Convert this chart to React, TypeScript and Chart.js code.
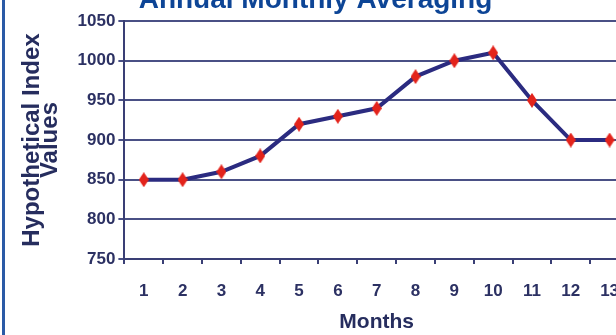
import React, { useEffect, useRef } from "react";
import { Chart, registerables } from "chart.js";

Chart.register(...registerables);

const months: string[] = ["1", "2", "3", "4", "5", "6", "7", "8", "9", "10", "11", "12", "13"];
const indexValues: number[] = [850, 850, 860, 880, 920, 930, 940, 980, 1000, 1010, 950, 900, 900];
const yMin = 750;
const yMax = 1050;
const yStep = 50;
const chartTitle = "Annual Monthly Averaging";
const yTitle: string[] = ["Hypothetical Index", "Values"];
const xTitle = "Months";

const OFF = 24;
const W = 640;
const H = 335 + OFF;

function makeDiamond(): HTMLCanvasElement {
  const c = document.createElement("canvas");
  c.width = 10;
  c.height = 15;
  const ctx = c.getContext("2d")!;
  ctx.fillStyle = "#e3231b";
  ctx.beginPath();
  ctx.moveTo(5, 0);
  ctx.lineTo(10, 7.5);
  ctx.lineTo(5, 15);
  ctx.lineTo(0, 7.5);
  ctx.closePath();
  ctx.fill();
  return c;
}

export default function App() {
  const ref = useRef<HTMLCanvasElement | null>(null);
  useEffect(() => {
    if (!ref.current) return;
    const diamond = makeDiamond();
    const font = "'Liberation Sans', Arial, sans-serif";
    const chart = new Chart(ref.current, {
      type: "line",
      data: {
        labels: months,
        datasets: [
          {
            data: indexValues,
            borderColor: "#2b2b80",
            borderWidth: 4,
            pointStyle: diamond as any,
            pointRadius: 7,
            pointBackgroundColor: "#e3231b",
            pointBorderColor: "#e3231b",
            tension: 0,
          },
        ],
      },
      options: {
        responsive: false,
        animation: false,
        layout: { padding: { top: 7.5, right: 9, bottom: 0, left: 0 } },
        plugins: {
          legend: { display: false },
          tooltip: { enabled: false },
          title: {
            display: true,
            text: chartTitle,
            color: "#0d4596",
            font: { family: font, size: 28, weight: "bold" },
            padding: { top: 0, bottom: 4 },
          },
        },
        scales: {
          x: {
            type: "category",
            offset: true,
            grid: {
              offset: true,
              drawOnChartArea: false,
              drawTicks: true,
              tickLength: 5,
              color: "#3a3f75",
              lineWidth: 2,
            },
            border: { display: true, color: "#3a3f75", width: 2 },
            ticks: {
              color: "#2c3163",
              padding: 17,
              font: { family: font, size: 17, weight: "bold" },
            },
            title: {
              display: true,
              text: xTitle,
              color: "#262d5e",
              font: { family: font, size: 21, weight: "bold" },
              padding: { top: -8.6, bottom: 0 },
            },
          },
          y: {
            min: yMin,
            max: yMax,
            grid: {
              drawOnChartArea: true,
              drawTicks: true,
              tickLength: 6,
              color: "#4a5085",
              lineWidth: 2,
            },
            border: { display: true, color: "#3a3f75", width: 2 },
            ticks: {
              stepSize: yStep,
              color: "#2c3163",
              padding: 3,
              font: { family: font, size: 17, weight: "bold" },
              callback: (v: any) => String(v),
            },
            title: {
              display: true,
              text: yTitle,
              color: "#262d5e",
              font: { family: font, size: 24, weight: "bold", lineHeight: 0.72 },
              padding: { top: 24, bottom: 16 },
            },
          },
        },
      },
    });
    return () => chart.destroy();
  }, []);

  return (
    <div
      style={{
        position: "fixed",
        left: 0,
        top: 0,
        width: 616,
        height: 335,
        overflow: "hidden",
        background: "#ffffff",
      }}
    >
      <canvas
        ref={ref}
        width={W}
        height={H}
        style={{ position: "absolute", left: 0, top: -OFF, width: W, height: H }}
      />
      <div
        style={{
          position: "absolute",
          left: 2,
          top: 0,
          width: 3,
          height: 335,
          background: "#2a5aa6",
        }}
      />
    </div>
  );
}
